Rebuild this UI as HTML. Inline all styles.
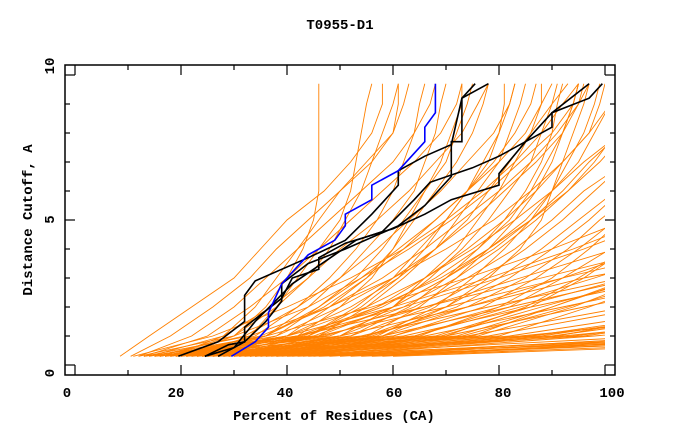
<!DOCTYPE html>
<html><head><meta charset="utf-8"><style>
body{margin:0;background:#fff}
svg text{font-family:"Liberation Mono",monospace;font-weight:bold;font-size:14px}
</style></head><body>
<svg id="chart" width="680" height="440" xmlns="http://www.w3.org/2000/svg">
<defs><clipPath id="clip"><rect x="65" y="65" width="540" height="310"/></clipPath></defs>
<text x="340" y="29" text-anchor="middle">T0955-D1</text>
<text x="334" y="420" text-anchor="middle">Percent of Residues (CA)</text>
<text x="32" y="220" text-anchor="middle" transform="rotate(-90 32 220)">Distance Cutoff, A</text>
<g id="series" clip-path="url(#clip)"></g>
<g id="axes"></g>
<rect x="65" y="65" width="550" height="310" fill="none" stroke="#000" stroke-width="1.5"/>
</svg>
<script>
const levels=[0.3,1,2,3,4,5,6,7,8,9,9.7];
const orangeSeries=[
[8.5,14,22,30,35,40,47,52,56,58,58],
[10.5,18,26,33,38,44,50,55,60,62,63],
[12,22,30,36,42,48,54,60,64,67,68],
[13,25,33,40,46,52,58,64,69,72,73],
[14,28,37,44,50,57,63,68,73,76,78],
[15,32,42,50,57,63,69,74,79,82,83],
[16,36,47,55,62,68,74,80,85,88,90],
[17,40,52,61,68,75,81,87,92,95,96],
[18,44,57,66,74,81,87,92,97,99,100],
[19,48,62,72,80,87,93,98,102],
[20,52,67,77,85,92,98,104],
[21,56,72,82,90,97,103],
[22,60,77,87,95,102],
[23,64,82,92,101],
[24,68,86,96,104],
[25,72,90,105],
[26,76,94,108],
[27,80,97,112],
[15,45,60,70,78,85,90,95,98,101],
[20,40,55,66,75,83,90,96,103],
[25,50,64,74,83,90,96,104],
[30,55,70,80,88,95,102],
[18,35,48,58,66,73,80,86,91,95,97],
[12,30,44,54,63,71,78,84,90,94,95],
[22,46,60,70,79,86,92,97,103],
[28,58,74,85,93,99,106],
[33,65,80,90,97,103],
[35,70,85,95,104],
[38,75,90,106],
[16,38,50,60,68,74,78,82,86,90,93],
[21,43,58,68,76,82,86,89,92,94,95],
[14,36,56,74,90,104],[16,40,60,78,94,108],[18,42,62,80,96,110],
[20,47,66,84,102],[24,55,74,92,108],[26,60,80,98,115],
[29,64,84,104],[31,69,88,108],[34,73,93,112],
[11,26,40,52,62,70,77,83,88,92,95],
[13,33,48,60,70,79,86,92,97,101],
[17,42,57,69,78,86,93,99,104],
[36,110],[38,125],[40,140],[42,118],[44,130],[46,150],[48,115],[52,135],[56,160],[50,122],[54,145],[58,128],[60,170],
[28,84,140],[30,88,125],[32,92,150],[34,96,135],
[39,86,130],[41,91,120],[43,94,140],[45,98,160],
[13,42,66,88,110],[15,46,70,92,115],[17,50,74,96,125],[19,54,78,103],[21,58,82,106],[23,62,86,112],[25,66,92,118],[27,70,96,122],[29,74,104],[31,78,108],[33,82,118],[35,86,124],[37,90,130],
[20,30,36,40,43,45,46,46,46,46,46],
[22,33,38,42,46,50,52,53,54,55,56],
[18,28,34,38,42,46,50,56,60,61,61],
[24,36,44,50,55,60,64,66,68,69,70],
[26,40,48,55,60,64,68,72,75,77,78],
[30,46,55,62,68,72,76,80,82,84,85],
[32,50,60,67,73,78,82,86,88,90,91],
[34,55,65,72,78,83,87,90,92,94,95],
[28,44,54,61,66,70,74,78,80,81,81],
[27,42,50,56,60,63,66,69,71,73,73],
[36,58,70,78,84,88,90,92,94,96,97],
[16,30,38,44,48,51,54,56,58,60,61],
[19,34,42,48,53,57,60,62,64,65,66],
[23,38,46,53,58,62,66,70,72,74,75],
[25,44,53,60,65,70,74,77,80,82,83],
[29,50,60,66,72,76,80,83,86,88,88],
[31,52,63,70,76,81,85,88,90,91,92],
[33,57,68,75,81,86,90,93,96,98,99],
[20,36,46,54,61,68,74,79,83,86,87]
];
const blackX=[
[19.5,27,32,32,34,44,51,56,61,61,66,71,73,78],
[24.5,29,32,32,39,41,46,46,51,60,66,71,80,80,85,90,97],
[27,32,36,39,39,44,51,61,66,71,71,73,73,75.5],
[24.5,30,34,41,49,53,58,64,67,75,80,90,90,97,99.5]];
const blackY=[
[0.3,0.8,1.5,2.4,2.9,3.7,4.3,5.2,6.2,6.7,7.2,7.6,9.2,9.7],
[0.3,0.7,0.8,1.3,2.3,3,3.3,3.7,4.2,4.7,5.2,5.7,6.2,6.6,7.7,8.7,9.7],
[0.3,0.8,1.5,2.2,2.8,3.5,4.0,4.8,5.5,6.5,7.7,7.7,9.2,9.7],
[0.3,0.6,1.5,2.8,3.8,4.3,4.6,5.7,6.3,6.8,7.2,8.2,8.7,9.2,9.7]];
const blueX=[29.5,34,36.5,36.5,39,41,44,49,51,51,56,56,61,66,66,68,68];
const blueY=[0.3,0.8,1.3,1.8,2.8,3.2,3.8,4.3,4.8,5.2,5.7,6.2,6.7,7.7,8.2,8.7,9.7];
const xTicks=[0,20,40,60,80,100];
const yTicks=[0,5,10];

const NS="http://www.w3.org/2000/svg";
const sx=v=>75+v*5.3, sy=v=>365-v*29;
const lx=v=>67+v*5.45, ly=v=>373-v*30.7;
const g=document.getElementById('series'), ax=document.getElementById('axes');
function poly(xs,ys,color,w,name){
  const p=document.createElementNS(NS,'polyline');
  p.setAttribute('points',xs.map((x,i)=>sx(x)+','+sy(ys[i])).join(' '));
  p.setAttribute('fill','none');p.setAttribute('stroke',color);p.setAttribute('stroke-width',w);
  
  
  g.appendChild(p);
}
orangeSeries.forEach((s,i)=>{
  const ys=s.map((x,j)=>levels[j]);
  poly(s,ys,'#ff8000',0.9,'model-curve-'+i);
});
blackX.forEach((xs,i)=>poly(xs,blackY[i],'#000',1.6,'highlight-curve-'+i));
poly(blueX,blueY,'#0000ff',1.6,'best-model-curve');
function line(x1,y1,x2,y2,name){
  const l=document.createElementNS(NS,'line');
  l.setAttribute('x1',x1);l.setAttribute('y1',y1);l.setAttribute('x2',x2);l.setAttribute('y2',y2);
  l.setAttribute('stroke','#000');l.setAttribute('stroke-width',1.2);
  
  
  ax.appendChild(l);
}
function txt(x,y,s,anchor,rot,name){
  const t=document.createElementNS(NS,'text');
  t.setAttribute('x',x);t.setAttribute('y',y);t.setAttribute('text-anchor',anchor);
  if(rot)t.setAttribute('transform','rotate(-90 '+x+' '+y+')');
  t.textContent=s;
  
  
  ax.appendChild(t);
}
for(let v=0;v<=100;v+=10){
  const L=v%20===0?10:5;
  line(sx(v),375,sx(v),375-L,'x-tick');
  line(sx(v),65,sx(v),65+L,'x-tick-top');
}
for(let v=0;v<=10;v++){
  const L=v%5===0?10:5;
  line(65,sy(v),65+L,sy(v),'y-tick');
  line(615,sy(v),615-L,sy(v),'y-tick-right');
}
xTicks.forEach(v=>txt(lx(v),397,String(v),'middle',false,'x-tick-label'));
yTicks.forEach(v=>txt(54,ly(v),String(v),'middle',true,'y-tick-label'));
</script>
</body></html>
